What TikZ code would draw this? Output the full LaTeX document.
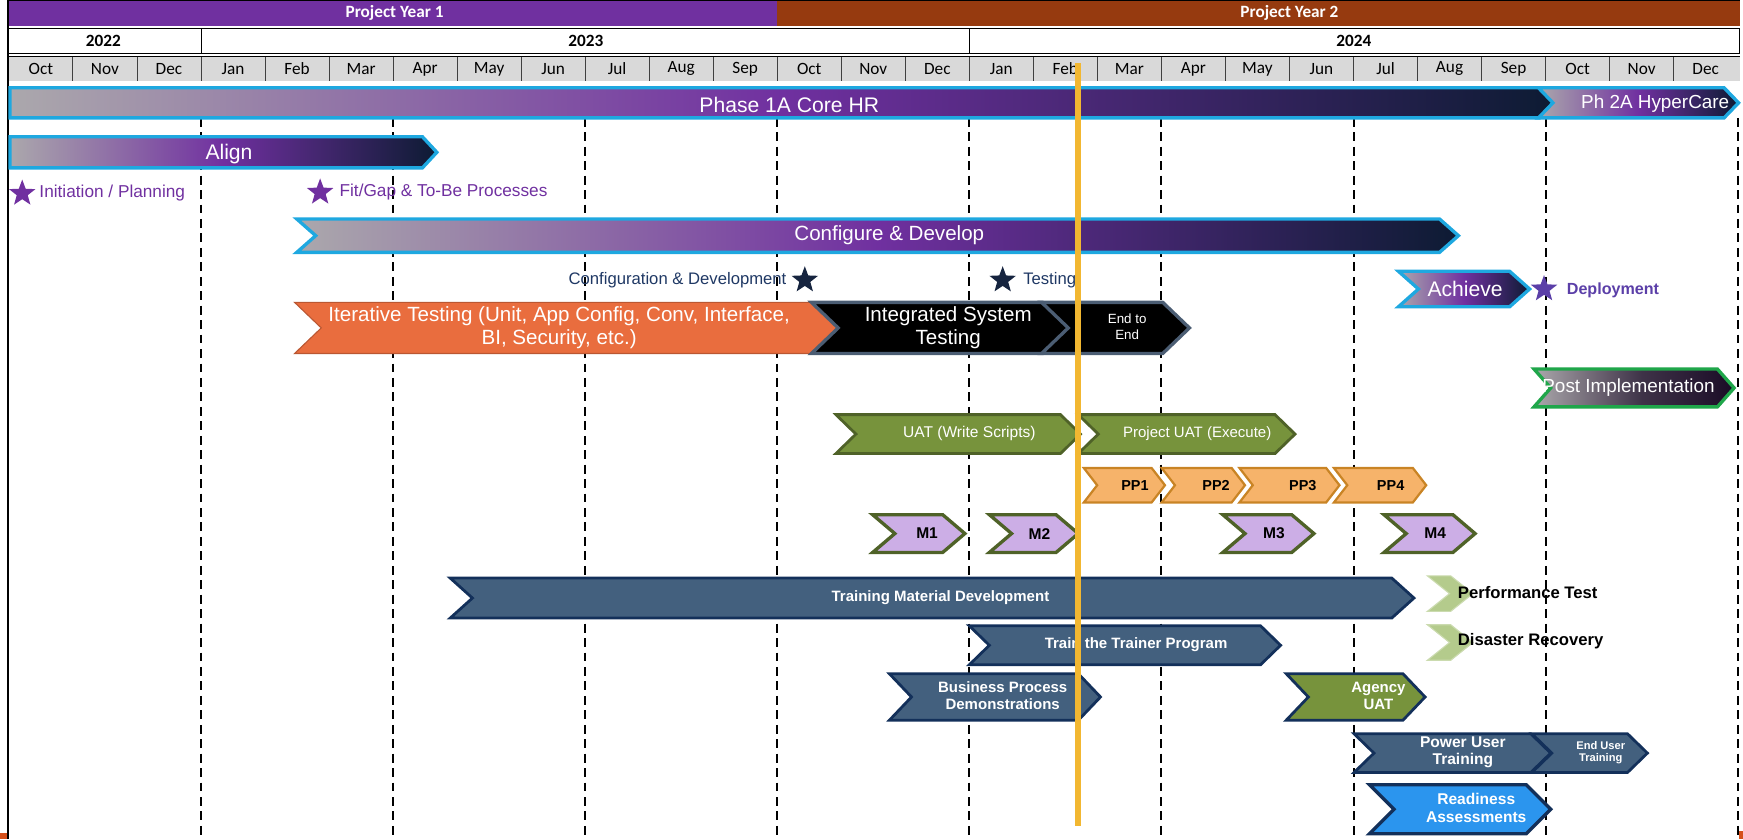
\documentclass[tikz,border=0pt]{standalone}
\usepackage{fontspec}
\setmainfont{Liberation Sans}
\newfontfamily\calibri{Carlito}
\usetikzlibrary{shapes.geometric}

\definecolor{yrpurple}{HTML}{7030A0}
\definecolor{yrbrown}{HTML}{963A0F}
\definecolor{monthgray}{HTML}{D9D9D9}
\definecolor{gradgray}{HTML}{ABA8AC}
\definecolor{gradpurple}{HTML}{7030A0}
\definecolor{gradnavy}{HTML}{0D1B33}
\definecolor{phaseblue}{HTML}{1EA8E0}
\definecolor{itorange}{HTML}{E96D3E}
\definecolor{istframe}{HTML}{4B5D73}
\definecolor{uatgreen}{HTML}{77933C}
\definecolor{uatdark}{HTML}{4F6228}
\definecolor{pporange}{HTML}{F6B36A}
\definecolor{ppdark}{HTML}{C98425}
\definecolor{mlilac}{HTML}{CCAEE6}
\definecolor{trblue}{HTML}{43607E}
\definecolor{trdark}{HTML}{13305A}
\definecolor{drgreen}{HTML}{B4CB8C}
\definecolor{rdblue}{HTML}{2B95EE}
\definecolor{postgreen}{HTML}{1FA64A}
\definecolor{postdark}{HTML}{1A0B26}
\definecolor{starnavy}{HTML}{16243F}
\definecolor{txtnavy}{HTML}{1F3864}
\definecolor{deploy}{HTML}{5B3FA8}
\definecolor{todayline}{HTML}{F2B731}
\definecolor{cornermark}{HTML}{D5501B}

\pgfdeclarehorizontalshading{phasefade}{100bp}{color(0bp)=(gradgray); color(25bp)=(gradgray); color(50bp)=(gradpurple); color(75bp)=(gradnavy); color(100bp)=(gradnavy)}
\pgfdeclarehorizontalshading{postfade}{100bp}{color(0bp)=(gradgray); color(25bp)=(gradgray); color(52bp)=(postdark!75!gradgray); color(75bp)=(postdark); color(100bp)=(postdark)}

% chevron: [notch 1/0]{style}{x1}{x2}{y1}{y2}{depth}
\newcommand{\chevbar}[7][1]{%
  \path[#2] (#3,#5) -- ({#4-#7},#5) -- (#4,{(#5+#6)/2}) -- ({#4-#7},#6)
    -- (#3,#6) -- ({#3+#1*#7},{(#5+#6)/2}) -- cycle;}

\tikzset{
  phasebar/.style={shade, shading=phasefade, draw=phaseblue, line width=3pt},
  postbar/.style={shade, shading=postfade, draw=postgreen, line width=3pt},
  iterbar/.style={fill=itorange, draw=itorange!80!black, line width=1pt},
  istbar/.style={fill=black, draw=istframe, line width=3pt},
  uatbar/.style={fill=uatgreen, draw=uatdark, line width=2.5pt},
  ppbar/.style={fill=pporange, draw=ppdark, line width=2pt},
  mbar/.style={fill=mlilac, draw=uatdark, line width=3pt},
  trainbar/.style={fill=trblue, draw=trdark, line width=2.5pt},
  agencybar/.style={fill=uatgreen, draw=trdark, line width=2.5pt},
  readybar/.style={fill=rdblue, draw=trdark, line width=3pt},
  drbar/.style={fill=drgreen, draw=drgreen!70!white, line width=1pt},
  barlbl/.style={text=white, inner sep=0pt, align=center},
  hdrtxt/.style={text=white, font=\calibri\bfseries\fontsize{15.5}{16}\selectfont},
  yrtxt/.style={font=\calibri\bfseries\fontsize{15.5}{16}\selectfont},
  montxt/.style={font=\calibri\fontsize{15.5}{16}\selectfont},
  gridline/.style={line width=1.8pt, dash pattern=on 8pt off 5pt},
  starmark/.style={star, star points=5, star point ratio=2.4, minimum size=25pt, inner sep=0pt},
}

\begin{document}
\begin{tikzpicture}[x=1pt, y=-1pt]
\useasboundingbox (0,0) rectangle (1568,755);

%%%%%%%%%%%%%%%%%%%%%%%%%%%%%%%%%%%%%%%% header
\fill[yrpurple] (7,1) rectangle (699,23);
\fill[yrbrown] (699,1) rectangle (1565,23);
\draw[line width=1pt] (7,0.5) -- (1565,0.5);
\node[hdrtxt] (year1) at (355,12) {Project Year 1};
\node[hdrtxt] (year2) at (1160,12) {Project Year 2};

\draw[line width=1pt] (7,26) rectangle (1565,48);
\draw[line width=1pt] (181,26) -- (181,48);
\draw[line width=1pt] (872,26) -- (872,48);
\node[yrtxt] (y22) at (93,37) {2022};
\node[yrtxt] (y23) at (527,37) {2023};
\node[yrtxt] (y24) at (1218,37) {2024};

\fill[monthgray] (7,51) rectangle (1565,73);
\draw[line width=1pt] (7,51) -- (1565,51);
\foreach \i in {1,...,26}
  \draw[black!75, line width=0.8pt] ({8+57.6*\i},51) -- ({8+57.6*\i},73);
\foreach \mon [count=\i from 0] in {Oct,Nov,Dec,Jan,Feb,Mar,Apr,May,Jun,Jul,Aug,Sep,Oct,Nov,Dec,Jan,Feb,Mar,Apr,May,Jun,Jul,Aug,Sep,Oct,Nov,Dec}
  \node[montxt] (mon\i) at ({8+57.6*(\i+0.5)},62) {\mon};

%%%%%%%%%%%%%%%%%%%%%%%%%%%%%%%%%%%%%%%% grid
\foreach \i in {3,6,...,27}
  \draw[gridline] ({8+57.6*\i},106) -- ({8+57.6*\i},755);
\draw[line width=1.5pt] (7,0) -- (7,755);
\fill[cornermark] (0,749) rectangle (6,755);
\fill[cornermark] (1564,748) rectangle (1568,755);

%%%%%%%%%%%%%%%%%%%%%%%%%%%%%%%%%%%%%%%% phases
\chevbar[0]{phasebar}{9}{1398}{79}{106}{13}
\node[barlbl, font=\fontsize{19}{20}\selectfont] (phase) at (710,94) {Phase 1A Core HR};
\chevbar{phasebar}{1384}{1564}{79}{106}{13}
\node[barlbl, font=\fontsize{17}{18}\selectfont] (hypercare) at (1489,93) {Ph 2A HyperCare};

\chevbar[0]{phasebar}{9}{393}{123}{151}{13}
\node[barlbl, font=\fontsize{19}{20}\selectfont] (align) at (206,139) {Align};
\node[starmark, fill=yrpurple] (initstar) at (20,174) {};
\node[anchor=west, text=yrpurple, font=\fontsize{15.5}{17}\selectfont] (init) at (32,174) {Initiation / Planning};
\node[starmark, fill=yrpurple] (fitstar) at (288,173) {};
\node[anchor=west, text=yrpurple, font=\fontsize{15.5}{17}\selectfont] (fitgap) at (302,173) {Fit/Gap \& To-Be Processes};

\chevbar{phasebar}{267}{1312}{197}{227}{17}
\node[barlbl, font=\fontsize{18.5}{20}\selectfont] (configure) at (800,212) {Configure \& Develop};
\node[anchor=east, text=txtnavy, font=\fontsize{15}{16}\selectfont] (confdev) at (711,252) {Configuration \& Development};
\node[starmark, fill=starnavy] (confstar) at (724,252) {};
\node[starmark, fill=starnavy] (teststar) at (902,252) {};
\node[anchor=west, text=txtnavy, font=\fontsize{15}{16}\selectfont] (testing) at (917,252) {Testing};

\chevbar{phasebar}{1258}{1376}{244}{276}{18}
\node[barlbl, font=\fontsize{19}{20}\selectfont] (achieve) at (1318,260) {Achieve};
\node[starmark, fill=deploy] (deploystar) at (1389,260) {};
\node[anchor=west, text=deploy, font=\bfseries\fontsize{14.5}{16}\selectfont] (deployment) at (1406,261) {Deployment};

%%%%%%%%%%%%%%%%%%%%%%%%%%%%%%%%%%%%%%%% testing
\chevbar{iterbar}{265}{755}{272}{318}{24}
\node[barlbl, font=\fontsize{18.5}{21}\selectfont] (iterative) at (503,295) {Iterative Testing (Unit, App Config, Conv, Interface,\\BI, Security, etc.)};
\chevbar{istbar}{730}{962}{272}{318}{24}
\node[barlbl, font=\fontsize{18.5}{21}\selectfont] (ist) at (853,295) {Integrated System\\Testing};
\chevbar{istbar}{937}{1070}{272}{318}{24}
\node[barlbl, font=\fontsize{12}{14}\selectfont] (e2e) at (1014,294) {End to\\End};

\chevbar{postbar}{1380}{1560}{332}{366}{15}
\node[barlbl, font=\fontsize{17}{18}\selectfont] (postimpl) at (1465,349) {Post Implementation};

\chevbar{uatbar}{752}{972}{373}{408}{18}
\node[barlbl, font=\fontsize{14}{15}\selectfont] (uatwrite) at (872,390) {UAT (Write Scripts)};
\chevbar{uatbar}{970}{1165}{373}{408}{18}
\node[barlbl, font=\fontsize{13.5}{15}\selectfont] (uatexec) at (1077,390) {Project UAT (Execute)};

\chevbar{ppbar}{975}{1048}{421}{452}{12}
\chevbar{ppbar}{1045}{1120}{421}{452}{12}
\chevbar{ppbar}{1115}{1205}{421}{452}{12}
\chevbar{ppbar}{1200}{1283}{421}{452}{12}
\node[barlbl, text=black, font=\bfseries\fontsize{13}{14}\selectfont] (pp1) at (1021,437) {PP1};
\node[barlbl, text=black, font=\bfseries\fontsize{13}{14}\selectfont] (pp2) at (1094,437) {PP2};
\node[barlbl, text=black, font=\bfseries\fontsize{13}{14}\selectfont] (pp3) at (1172,437) {PP3};
\node[barlbl, text=black, font=\bfseries\fontsize{13}{14}\selectfont] (pp4) at (1251,437) {PP4};

\chevbar{mbar}{785}{868}{463}{497}{20}
\chevbar{mbar}{890}{970}{463}{497}{20}
\chevbar{mbar}{1100}{1182}{463}{497}{20}
\chevbar{mbar}{1245}{1327}{463}{497}{20}
\node[barlbl, text=black, font=\bfseries\fontsize{14}{15}\selectfont] (m1) at (834,480) {M1};
\node[barlbl, text=black, font=\bfseries\fontsize{14}{15}\selectfont] (m2) at (935,480) {M2};
\node[barlbl, text=black, font=\bfseries\fontsize{14}{15}\selectfont] (m3) at (1146,480) {M3};
\node[barlbl, text=black, font=\bfseries\fontsize{14}{15}\selectfont] (m4) at (1291,480) {M4};

%%%%%%%%%%%%%%%%%%%%%%%%%%%%%%%%%%%%%%%% training
\chevbar{trainbar}{405}{1272}{520}{556}{20}
\node[barlbl, font=\bfseries\fontsize{13.5}{15}\selectfont] (trainmat) at (846,538) {Training Material Development};

\chevbar{drbar}{1284}{1325}{518}{550}{20}
\node[anchor=west, font=\bfseries\fontsize{15}{16}\selectfont] (perftest) at (1308,533) {Performance Test};
\chevbar{drbar}{1284}{1325}{562}{594}{20}
\node[anchor=west, font=\bfseries\fontsize{15}{16}\selectfont] (disaster) at (1308,577) {Disaster Recovery};

\chevbar{trainbar}{872}{1152}{563}{598}{18}
\node[barlbl, font=\bfseries\fontsize{13.5}{15}\selectfont] (trainer) at (1022,580) {Train the Trainer Program};

\chevbar{trainbar}{800}{990}{606}{648}{20}
\node[barlbl, font=\bfseries\fontsize{13.5}{15}\selectfont] (bizproc) at (902,626) {Business Process\\Demonstrations};
\chevbar{agencybar}{1157}{1282}{606}{648}{20}
\node[barlbl, font=\bfseries\fontsize{13.5}{15}\selectfont] (agency) at (1240,626) {Agency\\UAT};

\chevbar{trainbar}{1218}{1395}{660}{695}{18}
\node[barlbl, font=\bfseries\fontsize{14}{15}\selectfont] (poweruser) at (1316,677) {Power User\\Training};
\chevbar{trainbar}{1378}{1482}{660}{695}{18}
\node[barlbl, font=\bfseries\fontsize{10}{11}\selectfont] (enduser) at (1440,677) {End User\\Training};

\chevbar{readybar}{1232}{1395}{706}{750}{22}
\node[barlbl, font=\bfseries\fontsize{14}{16}\selectfont] (readiness) at (1328,727) {Readiness\\Assessments};

%%%%%%%%%%%%%%%%%%%%%%%%%%%%%%%%%%%%%%%% status date
\draw[todayline, line width=5pt] (970,57) -- (970,743);

\end{tikzpicture}
\end{document}
